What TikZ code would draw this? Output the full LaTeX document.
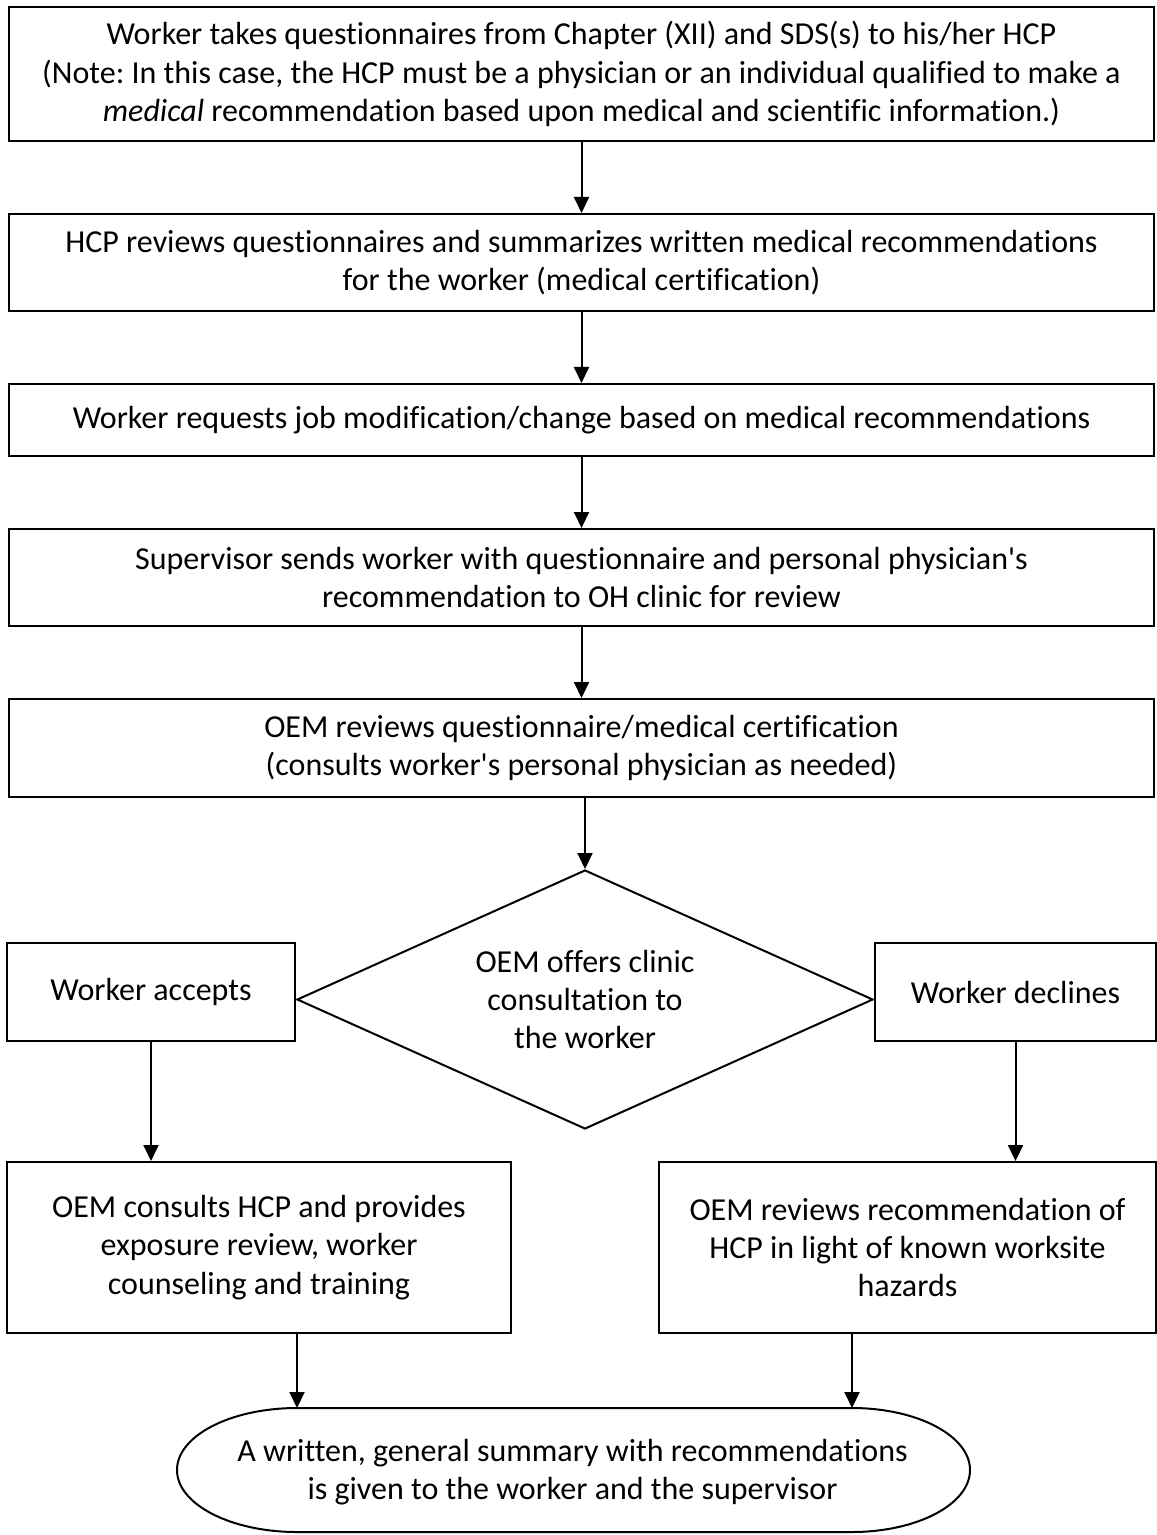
\documentclass[tikz,border=0pt]{standalone}
\usepackage{fontspec}
\setmainfont{Carlito}[Ligatures={TeX,NoCommon}]
\frenchspacing
\usetikzlibrary{arrows.meta,positioning,shapes.geometric}
\tikzset{
  stepbox/.style={draw=black,line width=1pt,align=center,
    minimum width=572.5pt,inner sep=2pt},
  sidebox/.style={draw=black,line width=1pt,align=center,
    minimum height=49pt,inner sep=2pt},
  decision/.style={draw=black,line width=1pt,diamond,aspect=2.2,
    align=center,inner sep=0pt,minimum width=288pt,minimum height=129.5pt},
  arrow/.style={-{Triangle[length=8pt,width=7.5pt]},draw=black,line width=1pt}
}

\begin{document}
\begin{tikzpicture}[x=0.5pt,y=-0.5pt,node distance=35.5pt,
  every node/.style={font=\fontsize{16}{19.15}\selectfont}]
  \useasboundingbox (0,0) rectangle (1156,1535);
  \node[stepbox,minimum height=67pt] (take) at (581.5,74) {Worker takes questionnaires from Chapter (XII) and SDS(s) to his/her HCP\\(Note: In this case, the HCP must be a physician or an individual qualified to make a\\\textit{medical} recommendation based upon medical and scientific information.)};
  \node[stepbox,minimum height=48.5pt,below=of take] (hcp) {HCP reviews questionnaires and summarizes written medical recommendations\\for the worker (medical certification)};
  \node[stepbox,minimum height=36pt,below=of hcp] (req) {Worker requests job modification/change based on medical recommendations};
  \node[stepbox,minimum height=48.5pt,below=of req] (sup) {Supervisor sends worker with questionnaire and personal physician\textquotesingle s\\recommendation to OH clinic for review};
  \node[stepbox,minimum height=49pt,below=of sup] (oem) {OEM reviews questionnaire/medical certification\\(consults worker\textquotesingle s personal physician as needed)};
  \node[decision,below=of oem,xshift=1.75pt] (offer) {OEM offers clinic\\consultation to\\the worker};
  \node[sidebox,minimum width=144pt,left=0pt of offer,yshift=3.75pt] (acc) {Worker accepts};
  \node[sidebox,minimum width=140.5pt,right=0pt of offer,yshift=3.75pt] (dec) {Worker declines};
  \node[sidebox,minimum width=252pt,minimum height=85.5pt,below=59.5pt of acc.south west,anchor=north west] (cons) {OEM consults HCP and provides\\exposure review, worker\\counseling and training};
  \node[sidebox,minimum width=248.5pt,minimum height=85.5pt,below=59.5pt of dec.south east,anchor=north east] (rev) {OEM reviews recommendation of\\HCP in light of known worksite\\hazards};
  % terminal with elliptic ends
  \coordinate (sumnw) at (297,1408);
  \coordinate (sumne) at (852,1408);
  \coordinate (sumsw) at (297,1532);
  \node[align=center] (sum) at (572.5,1472) {A written, general summary with recommendations\\is given to the worker and the supervisor};
  \draw[line width=1pt] (sumnw) -- (sumne)
    arc[start angle=90,end angle=-90,x radius=59pt,y radius=31pt]
    -- (sumsw)
    arc[start angle=270,end angle=90,x radius=60pt,y radius=31pt] -- cycle;
  \draw[arrow] (take) -- (hcp);
  \draw[arrow] (hcp) -- (req);
  \draw[arrow] (req) -- (sup);
  \draw[arrow] (sup) -- (oem);
  \draw[arrow] (oem.south -| offer.north) -- (offer.north);
  \draw[arrow] (acc) -- (acc |- cons.north);
  \draw[arrow] (dec) -- (dec |- rev.north);
  \draw[arrow] (cons.south -| sumnw) -- (sumnw);
  \draw[arrow] (rev.south -| sumne) -- (sumne);
\end{tikzpicture}
\end{document}
